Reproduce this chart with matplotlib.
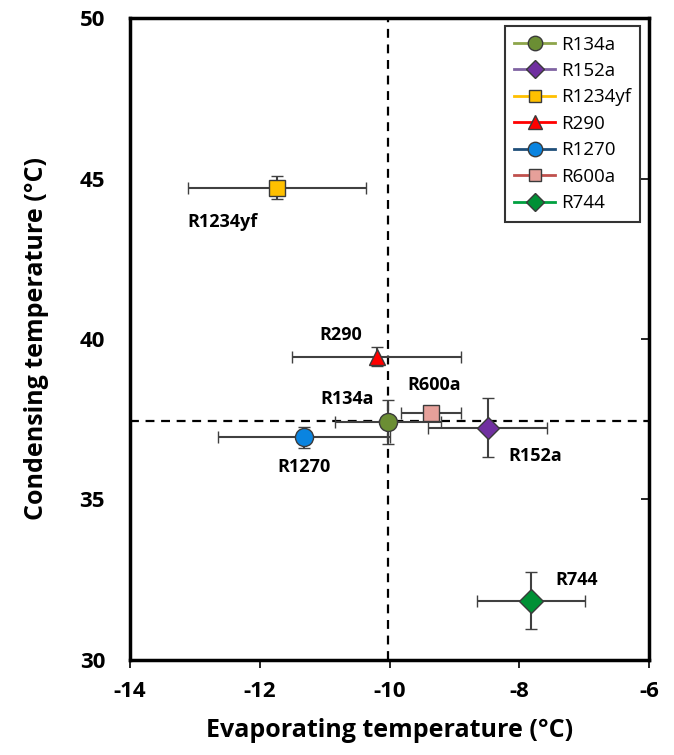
import matplotlib.pyplot as plt
from matplotlib.lines import Line2D

plt.rcParams['font.family'] = ['Open Sans', 'DejaVu Sans']
plt.rcParams['axes.unicode_minus'] = False

# refrigerant data
names = ['R134a', 'R152a', 'R1234yf', 'R290', 'R1270', 'R600a', 'R744']
evap = [-10.02, -8.49, -11.74, -10.20, -11.32, -9.36, -7.82]
cond = [37.41, 37.24, 44.71, 39.45, 36.94, 37.68, 31.85]
evap_err = [0.82, 0.91, 1.37, 1.30, 1.33, 0.46, 0.83]
cond_err = [0.69, 0.93, 0.36, 0.30, 0.33, 0.10, 0.89]

# reference lines (R134a baseline)
ref_evap = -10.02
ref_cond = 37.45

# label positions for each refrigerant
label_x = [-10.66, -7.75, -12.58, -10.75, -11.32, -9.31, -7.12]
label_y = [38.12, 36.36, 43.64, 40.14, 36.00, 38.56, 32.50]

markers = ['o', 'D', 's', '^', 'o', 's', 'D']
sizes = [13, 11, 11.5, 12, 13, 11.5, 12]
fills = ['#6B8E34', '#7030A0', '#FFC000', '#FF0000', '#0A84E0', '#E6A09A', '#009035']
lines = ['#8DA54A', '#8064A2', '#FFC000', '#FF0000', '#1F4E79', '#C0504D', '#00A040']

fig = plt.figure(figsize=(6.74, 7.55), dpi=100)
ax = fig.add_axes([0.193, 0.126, 0.770, 0.850])

ax.axvline(ref_evap, color='black', ls=(0, (4, 3)), lw=1.6, zorder=1)
ax.axhline(ref_cond, color='black', ls=(0, (4, 3)), lw=1.6, zorder=1)

for i in range(len(names)):
    ax.errorbar(evap[i], cond[i], xerr=evap_err[i], yerr=cond_err[i],
                fmt=markers[i], ms=sizes[i], mfc=fills[i], mec='#3a3a3a', mew=1.0,
                ecolor='#404040', elinewidth=1.5, capsize=4, capthick=1.3, zorder=3)
    ax.text(label_x[i], label_y[i], names[i], fontsize=13, fontweight='bold',
            ha='center', va='center')

ax.set_xlim(-14, -6)
ax.set_ylim(30, 50)
ax.set_xticks([-14, -12, -10, -8, -6])
ax.set_yticks([30, 35, 40, 45, 50])
ax.tick_params(axis='x', direction='out', length=6, width=1.2, labelsize=16, pad=9)
ax.tick_params(axis='y', left=False, right=True, direction='in', length=6, width=1.2,
               labelleft=True, labelright=False, labelsize=16, pad=18)
for lab in ax.get_xticklabels() + ax.get_yticklabels():
    lab.set_fontweight('bold')
for s in ax.spines.values():
    s.set_linewidth(2.5)

ax.set_xlabel('Evaporating temperature (°C)', fontsize=18, fontweight='bold', labelpad=12)
ax.set_ylabel('Condensing temperature (°C)', fontsize=18, fontweight='bold', labelpad=22)

handles = [Line2D([0], [0], color=lines[i], lw=2, marker=markers[i],
                  ms=sizes[i] * 0.8, mfc=fills[i], mec='#3a3a3a', mew=1.0)
           for i in range(len(names))]
leg = ax.legend(handles, names, loc='upper right', bbox_to_anchor=(0.983, 0.9875),
                borderaxespad=0, fontsize=13.5, frameon=True, fancybox=False,
                edgecolor='black', handlelength=2.2, labelspacing=0.45, borderpad=0.5,
                handletextpad=0.3)
leg.get_frame().set_linewidth(1.5)

plt.savefig('out.png')
